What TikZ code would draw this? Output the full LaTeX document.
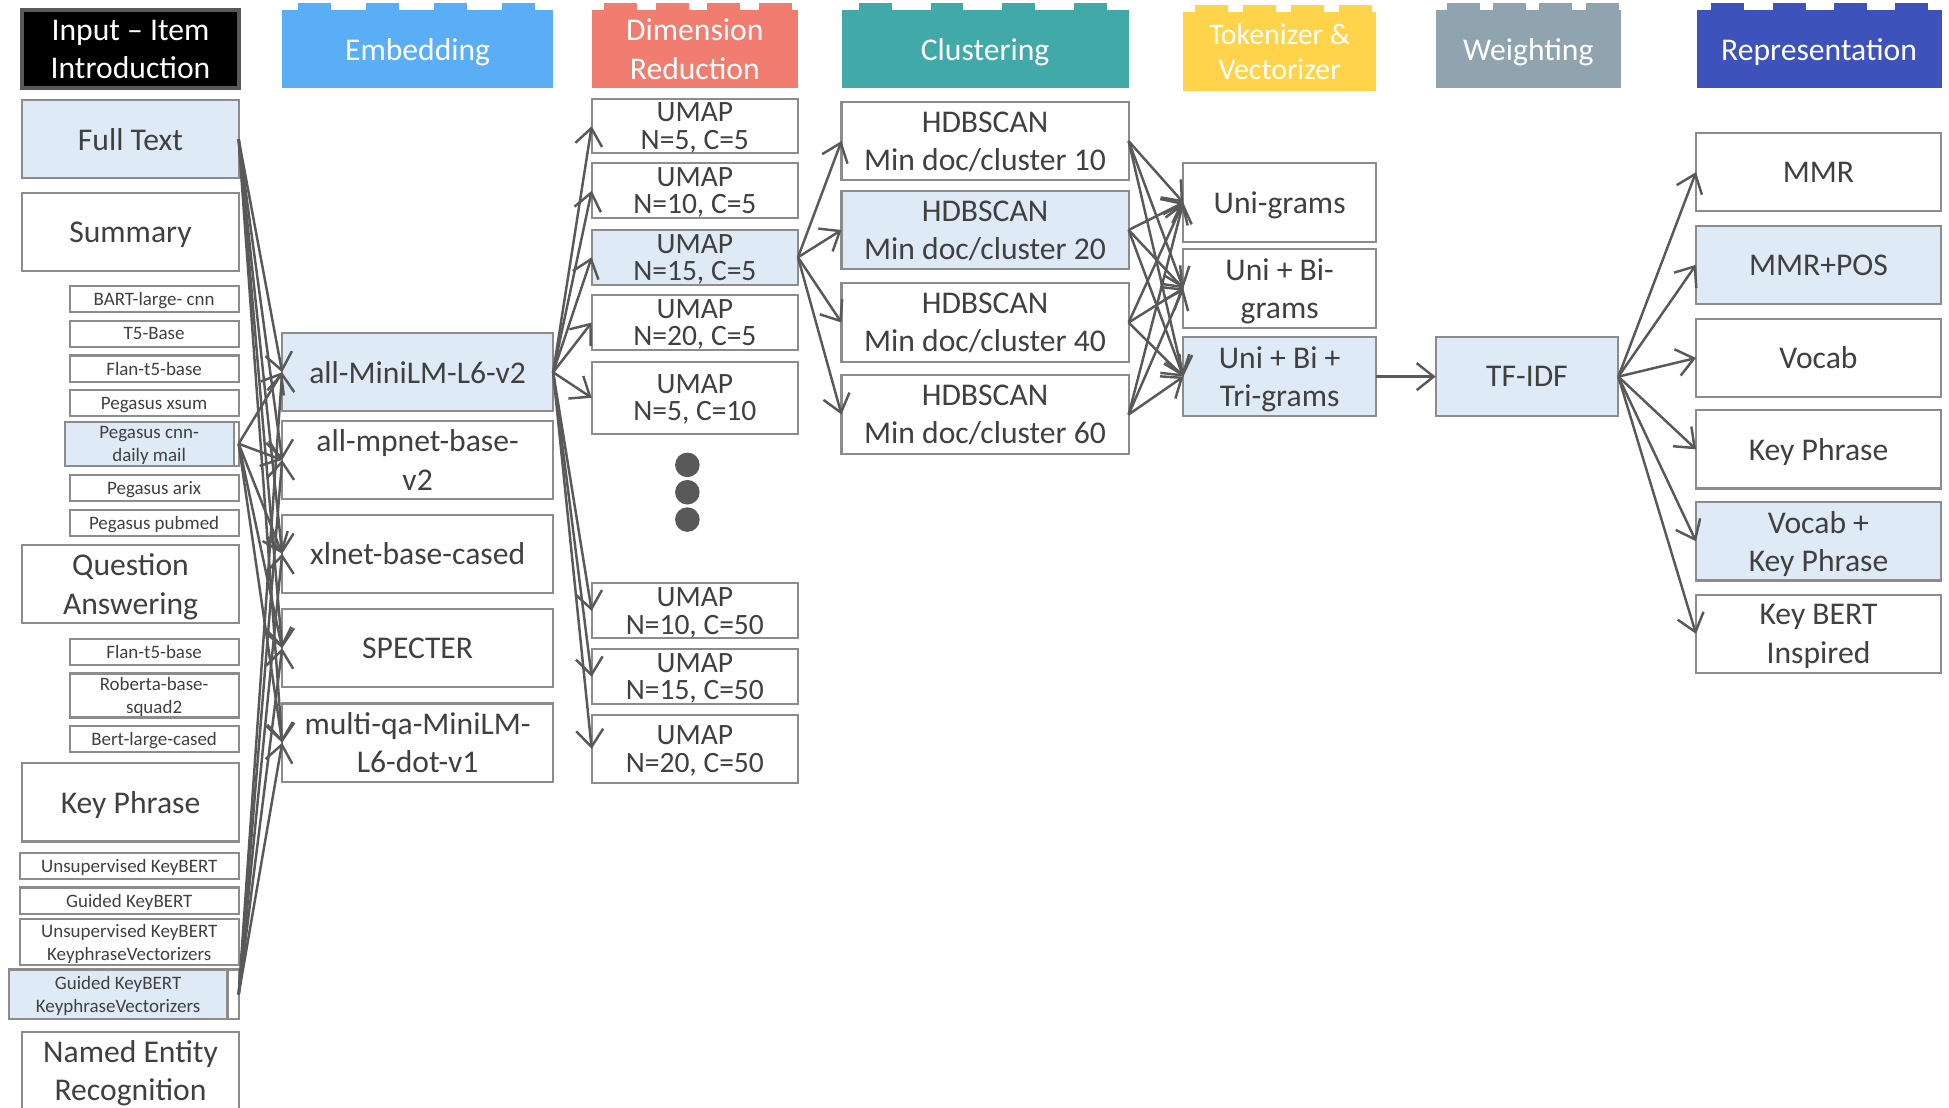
\documentclass[tikz,border=0pt]{standalone}
\usepackage{fontspec}
\setmainfont{Carlito}
\usetikzlibrary{arrows.meta,calc}
\definecolor{txt}{HTML}{404040}
\definecolor{edgegray}{HTML}{595959}
\definecolor{boxgray}{HTML}{8C8C8C}
\definecolor{hlblue}{HTML}{DEEAF6}
\definecolor{embblue}{HTML}{5AAEF5}
\definecolor{dimred}{HTML}{F07D6F}
\definecolor{cluteal}{HTML}{41AAA8}
\definecolor{tokyellow}{HTML}{FFD44B}
\definecolor{weigray}{HTML}{8FA4AE}
\definecolor{repblue}{HTML}{3D52BA}
\newcommand{\fbig}{\fontsize{9}{10.9}\selectfont}
\newcommand{\ftokh}{\fontsize{8.5}{9.9}\selectfont}
\newcommand{\fumap}{\fontsize{8.4}{7.8}\selectfont}
\newcommand{\fsml}{\fontsize{5.4}{6.4}\selectfont}
\begin{document}
\begin{tikzpicture}[x=0.1243mm,y=-0.1243mm,
  box/.style={draw=boxgray,line width=0.6pt,fill=white,text=txt,align=center,inner sep=0pt,outer sep=0pt,text depth=0pt,font=\fbig},
  hl/.style={fill=hlblue},
  hdr/.style={box,draw=none,text=white,minimum height=7.83mm},
  inbig/.style={box,minimum width=21.63mm,minimum height=7.83mm},
  insml/.style={box,font=\fsml,minimum width=16.9mm,minimum height=2.61mm},
  kpsml/.style={box,font=\fsml,minimum width=21.88mm,minimum height=2.61mm},
  emb/.style={box,minimum width=27.1mm,minimum height=7.83mm},
  umap/.style={box,font=\fumap,minimum width=20.63mm,minimum height=5.5mm},
  hdb/.style={box,minimum width=28.71mm,minimum height=7.83mm},
  tok/.style={box,minimum width=19.27mm,minimum height=7.96mm},
  rep/.style={box,minimum width=24.49mm,minimum height=7.83mm},
  arr/.style={draw=edgegray,line width=0.7pt,-{Straight Barb[length=1.7mm,width=2.7mm]}},
  fan/.style={every edge/.style={arr}}]
\useasboundingbox (0,0) rectangle (1568,891);
\node[box,fill=black,draw=edgegray,line width=1.2pt,text=white,minimum width=21.63mm,minimum height=7.83mm] (hi) at (105,39.5) {Input – Item\\Introduction};
\node[hdr,fill=embblue,minimum width=27.1mm] (he) at (336,39.5) {Embedding};
\node[hdr,fill=dimred,minimum width=20.63mm] (hd) at (559,39.5) {Dimension\\Reduction};
\node[hdr,fill=cluteal,minimum width=28.71mm] (hc) at (792.5,39.5) {Clustering};
\node[hdr,fill=tokyellow,font=\ftokh,minimum width=19.27mm,minimum height=7.96mm] (ht) at (1029.5,41.5) {Tokenizer \&\\Vectorizer};
\node[hdr,fill=weigray,minimum width=18.52mm] (hw) at (1229.5,39.5) {Weighting};
\node[hdr,fill=repblue,minimum width=24.49mm] (hr) at (1463.5,39.5) {Representation};
\foreach \h/\c in {he/embblue,hd/dimred,hc/cluteal,ht/tokyellow,hw/weigray,hr/repblue}
  \foreach \f in {0.06,0.31,0.56,0.81}
    \fill[\c] ($(\h.north west)!\f!(\h.north east)+(0,0.5)$) rectangle ++(26.5,-6);

\node[inbig,hl] (ft) at (105,112) {Full Text};
\node[inbig] (sm) at (105,186.5) {Summary};
\node[insml] (s1) at (124,240.5) {BART-large- cnn};
\node[insml] (s2) at (124,268.5) {T5-Base};
\node[insml] (s3) at (124,296.5) {Flan-t5-base};
\node[insml] (s4) at (124,324.5) {Pegasus xsum};
\node[insml,minimum height=4.4mm] (pcw) at (124,357) {};
\node[insml,hl,minimum height=4.4mm] (pc) at (120,357) {Pegasus cnn-\\daily mail};
\node[insml] (s6) at (124,392.5) {Pegasus arix};
\node[insml] (s7) at (124,420.5) {Pegasus pubmed};
\node[inbig] (qa) at (105,470) {Question\\Answering};
\node[insml] (q1) at (124,524.5) {Flan-t5-base};
\node[insml,minimum height=4.4mm] (q2) at (124,559.5) {Roberta-base-\\squad2};
\node[insml] (q3) at (124,594.5) {Bert-large-cased};
\node[inbig] (kp) at (105,645.5) {Key Phrase};
\node[kpsml] (k1) at (104,696.5) {Unsupervised KeyBERT};
\node[kpsml] (k2) at (104,724.5) {Guided KeyBERT};
\node[kpsml,minimum height=4.6mm] (k3) at (104,758) {Unsupervised KeyBERT\\KeyphraseVectorizers};
\node[kpsml,minimum height=4.97mm] (gkw) at (104,800) {};
\node[kpsml,hl,minimum height=4.97mm] (gk) at (95,800) {Guided KeyBERT\\KeyphraseVectorizers};
\node[inbig] (ner) at (105,861.5) {Named Entity\\Recognition};

\node[emb,hl] (e1) at (336,299.5) {all-MiniLM-L6-v2};
\node[emb] (e2) at (336,370) {all-mpnet-base-\\v2};
\node[emb] (e3) at (336,445.5) {xlnet-base-cased};
\node[emb] (e4) at (336,521.5) {SPECTER};
\node[emb] (e5) at (336,597.5) {multi-qa-MiniLM-\\L6-dot-v1};

\node[umap,minimum height=5.35mm] (u1) at (559,101.5) {UMAP\\N=5, C=5};
\node[umap] (u2) at (559,153.5) {UMAP\\N=10, C=5};
\node[umap,hl] (u3) at (559,207) {UMAP\\N=15, C=5};
\node[umap] (u4) at (559,259.5) {UMAP\\N=20, C=5};
\node[umap,minimum height=7.21mm] (u5) at (559,320) {UMAP\\N=5, C=10};
\fill[edgegray] (553,374) circle (1.23mm) (553,396) circle (1.23mm) (553,418) circle (1.23mm);
\node[umap] (u6) at (559,491.5) {UMAP\\N=10, C=50};
\node[umap] (u7) at (559,544.5) {UMAP\\N=15, C=50};
\node[umap,minimum height=6.84mm] (u8) at (559,602.5) {UMAP\\N=20, C=50};

\node[hdb] (c1) at (792.5,113.5) {HDBSCAN\\Min doc/cluster 10};
\node[hdb,hl] (c2) at (792.5,185) {HDBSCAN\\Min doc/cluster 20};
\node[hdb] (c3) at (792.5,259.5) {HDBSCAN\\Min doc/cluster 40};
\node[hdb] (c4) at (792.5,333.5) {HDBSCAN\\Min doc/cluster 60};

\node[tok] (t1) at (1029.5,163) {Uni-grams};
\node[tok] (t2) at (1029.5,232) {Uni + Bi-\\grams};
\node[tok,hl] (t3) at (1029.5,303) {Uni + Bi +\\Tri-grams};
\node[box,hl,minimum width=18.27mm,minimum height=7.96mm] (tf) at (1228.5,303) {TF-IDF};

\node[rep] (r1) at (1463,138.5) {MMR};
\node[rep,hl] (r2) at (1463,213) {MMR+POS};
\node[rep] (r3) at (1463,288) {Vocab};
\node[rep] (r4) at (1463,361.5) {Key Phrase};
\node[rep,hl] (r5) at (1463,435.5) {Vocab +\\Key Phrase};
\node[rep] (r6) at (1463,510) {Key BERT\\Inspired};

\path[fan] (ft.east) edge (e1.west) edge (e2.west) edge (e3.west) edge (e4.west) edge (e5.west);
\path[fan] (pcw.east) edge (e1.west) edge (e2.west) edge (e3.west) edge (e4.west) edge (e5.west);
\path[fan] (gkw.east) edge (e1.west) edge (e2.west) edge (e3.west) edge (e4.west) edge (e5.west);
\path[fan] (e1.east) edge (u1.west) edge (u2.west) edge (u3.west) edge (u4.west) edge (u5.west) edge (u6.west) edge (u7.west) edge (u8.west);
\path[fan] (u3.east) edge (c1.west) edge (c2.west) edge (c3.west) edge (c4.west);
\path[fan] (c1.east) edge (t1.west) edge (t2.west) edge (t3.west);
\path[fan] (c2.east) edge (t1.west) edge (t2.west) edge (t3.west);
\path[fan] (c3.east) edge (t1.west) edge (t2.west) edge (t3.west);
\path[fan] (c4.east) edge (t1.west) edge (t2.west) edge (t3.west);
\draw[arr] (t3.east) -- (tf.west);
\path[fan] (tf.east) edge (r1.west) edge (r2.west) edge (r3.west) edge (r4.west) edge (r5.west) edge (r6.west);
\end{tikzpicture}
\end{document}
